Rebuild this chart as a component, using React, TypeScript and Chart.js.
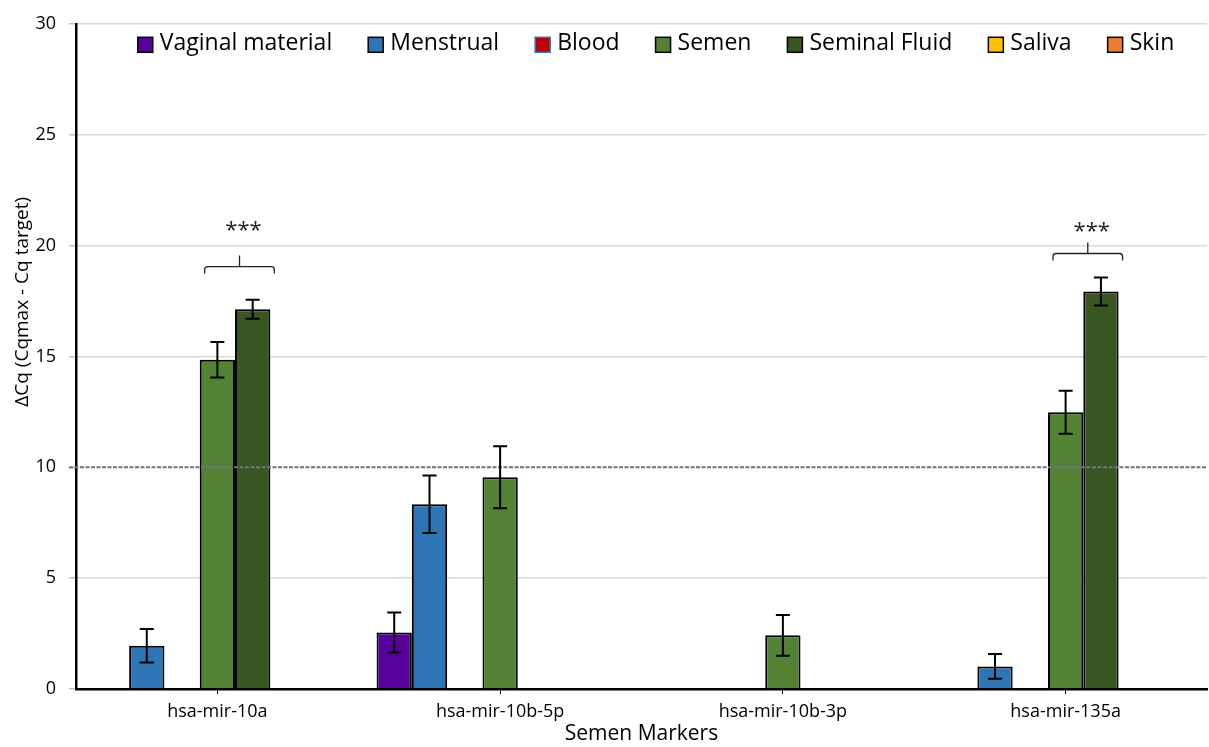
import React, { useEffect, useRef } from "react";
import { Chart, registerables } from "chart.js";

Chart.register(...registerables);

const categories = ["hsa-mir-10a", "hsa-mir-10b-5p", "hsa-mir-10b-3p", "hsa-mir-135a"];
const seriesNames = ["Vaginal material", "Menstrual", "Blood", "Semen", "Seminal Fluid", "Saliva", "Skin"];
const seriesColors = ["#58009A", "#2E75B6", "#C00000", "#548235", "#385723", "#FFC000", "#ED7D31"];
const legendBorderColors = ["#000", "#000", "#2E75B6", "#000", "#000", "#000", "#000"];

const vaginalValues = [null, 2.55, null, null];
const menstrualValues = [1.95, 8.33, null, 1.02];
const bloodValues = [null, null, null, null];
const semenValues = [14.85, 9.55, 2.42, 12.48];
const seminalFluidValues = [17.13, null, null, 17.93];
const salivaValues = [null, null, null, null];
const skinValues = [null, null, null, null];

const vaginalErrors = [0, 0.9, 0, 0];
const menstrualErrors = [0.76, 1.3, 0, 0.56];
const bloodErrors = [0, 0, 0, 0];
const semenErrors = [0.8, 1.4, 0.92, 0.97];
const seminalFluidErrors = [0.43, 0, 0, 0.63];
const salivaErrors = [0, 0, 0, 0];
const skinErrors = [0, 0, 0, 0];

const yTicksMax = 30;
const yTickStep = 5;
const thresholdValue = 10;
const yTitle = "ΔCq (Cqmax - Cq target)";
const xTitle = "Semen Markers";

// significance brackets: category index, bracket level (data units), star label level
const bracketCategories = [0, 3];
const bracketLevels = [19.05, 19.64];
const starLevels = [20.75, 20.7];
const starLabels = ["***", "***"];

const FONT = "'Open Sans', 'Liberation Sans', sans-serif";

export default function App() {
  const canvasRef = useRef<HTMLCanvasElement | null>(null);

  useEffect(() => {
    document.body.style.margin = "0";
    const canvas = canvasRef.current;
    if (!canvas) return;

    const seriesValues = [vaginalValues, menstrualValues, bloodValues, semenValues, seminalFluidValues, salivaValues, skinValues];
    const seriesErrors = [vaginalErrors, menstrualErrors, bloodErrors, semenErrors, seminalFluidErrors, salivaErrors, skinErrors];

    const overlay = {
      id: "overlay",
      afterDatasetsDraw(chart: any) {
        const ctx = chart.ctx;
        const area = chart.chartArea;
        const yScale = chart.scales.y;
        // threshold dashed line
        ctx.save();
        ctx.strokeStyle = "#6b7585";
        ctx.lineWidth = 1.8;
        ctx.setLineDash([4, 1.5]);
        const ty = yScale.getPixelForValue(thresholdValue);
        ctx.beginPath();
        ctx.moveTo(area.left - 7, ty);
        ctx.lineTo(area.right, ty);
        ctx.stroke();
        ctx.restore();

        // error bars
        ctx.save();
        ctx.strokeStyle = "#000";
        ctx.lineWidth = 2;
        seriesErrors.forEach((errs, di) => {
          const meta = chart.getDatasetMeta(di);
          meta.data.forEach((bar: any, i: number) => {
            const v = seriesValues[di][i];
            const e = errs[i];
            if (v == null || !e) return;
            const x = bar.x;
            const yHi = yScale.getPixelForValue(v + e);
            const yLo = yScale.getPixelForValue(v - e);
            ctx.beginPath();
            ctx.moveTo(x, yHi);
            ctx.lineTo(x, yLo);
            ctx.moveTo(x - 7, yHi);
            ctx.lineTo(x + 7, yHi);
            ctx.moveTo(x - 7, yLo);
            ctx.lineTo(x + 7, yLo);
            ctx.stroke();
          });
        });
        ctx.restore();

        // brackets
        ctx.save();
        ctx.strokeStyle = "#222";
        ctx.lineWidth = 1.3;
        ctx.fillStyle = "#222";
        ctx.font = `22px ${FONT}`;
        ctx.textAlign = "center";
        ctx.textBaseline = "middle";
        bracketCategories.forEach((ci, k) => {
          const semenBar: any = chart.getDatasetMeta(3).data[ci];
          const sfBar: any = chart.getDatasetMeta(4).data[ci];
          const left = semenBar.x - semenBar.width / 2 + 5;
          const right = sfBar.x + sfBar.width / 2 + 4;
          const mid = (left + right) / 2;
          const y = yScale.getPixelForValue(bracketLevels[k]);
          const drop = 7;
          const r = 3;
          ctx.beginPath();
          ctx.moveTo(left, y + drop);
          ctx.lineTo(left, y + r);
          ctx.quadraticCurveTo(left, y, left + r, y);
          ctx.lineTo(right - r, y);
          ctx.quadraticCurveTo(right, y, right, y + r);
          ctx.lineTo(right, y + drop);
          ctx.moveTo(mid, y);
          ctx.lineTo(mid, y - 11);
          ctx.stroke();
          ctx.fillText(starLabels[k], mid + 4, yScale.getPixelForValue(starLevels[k]) + 2);
        });
        ctx.restore();
      },
      afterDraw(chart: any) {
        const ctx = chart.ctx;
        const area = chart.chartArea;
        // legend inside the plot area, one row
        ctx.save();
        ctx.font = `23px ${FONT}`;
        ctx.textBaseline = "middle";
        ctx.textAlign = "left";
        const box = 15;
        const boxGap = 7;
        const itemGap = 36;
        const widths = seriesNames.map((n) => box + boxGap + ctx.measureText(n).width);
        const total = widths.reduce((a, b) => a + b, 0) + itemGap * (seriesNames.length - 1);
        const centerX = area.left + 580;
        let x = centerX - total / 2;
        const cy = area.top + 21;
        seriesNames.forEach((name, i) => {
          ctx.fillStyle = seriesColors[i];
          ctx.fillRect(x, cy - box / 2, box, box);
          ctx.strokeStyle = legendBorderColors[i];
          ctx.lineWidth = 1.5;
          ctx.strokeRect(x, cy - box / 2, box, box);
          ctx.fillStyle = "#000";
          ctx.fillText(name, x + box + boxGap, cy - 1);
          x += widths[i] + itemGap;
        });
        // y axis title
        ctx.font = `19px ${FONT}`;
        ctx.textAlign = "center";
        ctx.translate(23, area.top + 278);
        ctx.rotate(-Math.PI / 2);
        ctx.fillText(yTitle, 0, 0);
        ctx.restore();
      },
    };

    Chart.defaults.color = "#000";
    const chart = new Chart(canvas, {
      type: "bar",
      data: {
        labels: categories,
        datasets: seriesNames.map((name, i) => ({
          label: name,
          data: seriesValues[i] as any,
          backgroundColor: seriesColors[i],
          borderColor: "#000",
          borderWidth: 2,
          barPercentage: 1.0,
          categoryPercentage: 0.874,
        })),
      },
      options: {
        responsive: false,
        animation: false,
        layout: { padding: { left: 4, top: 23, right: 2, bottom: 0 } },
        plugins: {
          tooltip: { enabled: false },
          legend: { display: false },
        },
        scales: {
          x: {
            grid: {
              offset: false,
              drawOnChartArea: false,
              drawTicks: true,
              tickLength: 5,
              tickColor: "#000",
            },
            border: { color: "#000", width: 2.5 },
            ticks: { font: { family: FONT, size: 18 }, padding: 7, color: "#000" },
            title: {
              display: true,
              text: xTitle,
              font: { family: FONT, size: 21 },
              padding: { top: 0, bottom: 0 },
              color: "#000",
            },
            afterFit: (scale: any) => {
              scale.height = 58;
            },
          },
          y: {
            min: 0,
            max: yTicksMax,
            ticks: { stepSize: yTickStep, font: { family: FONT, size: 18 }, padding: 13, color: "#000" },
            grid: {
              color: (c: any) => (c.tick && c.tick.value === thresholdValue ? "rgba(0,0,0,0)" : "#d9d9d9"),
              lineWidth: 1.5,
              tickLength: 7,
              tickColor: "#bfbfbf",
            },
            border: { color: "#000", width: 2.5 },
            title: { display: false },
            afterFit: (scale: any) => {
              scale.width = 72;
            },
          },
        },
      },
      plugins: [overlay],
    });
    return () => chart.destroy();
  }, []);

  return (
    <div style={{ width: 1209, height: 747 }}>
      <canvas ref={canvasRef} width={1209} height={747} style={{ width: 1209, height: 747, display: "block" }} />
    </div>
  );
}
